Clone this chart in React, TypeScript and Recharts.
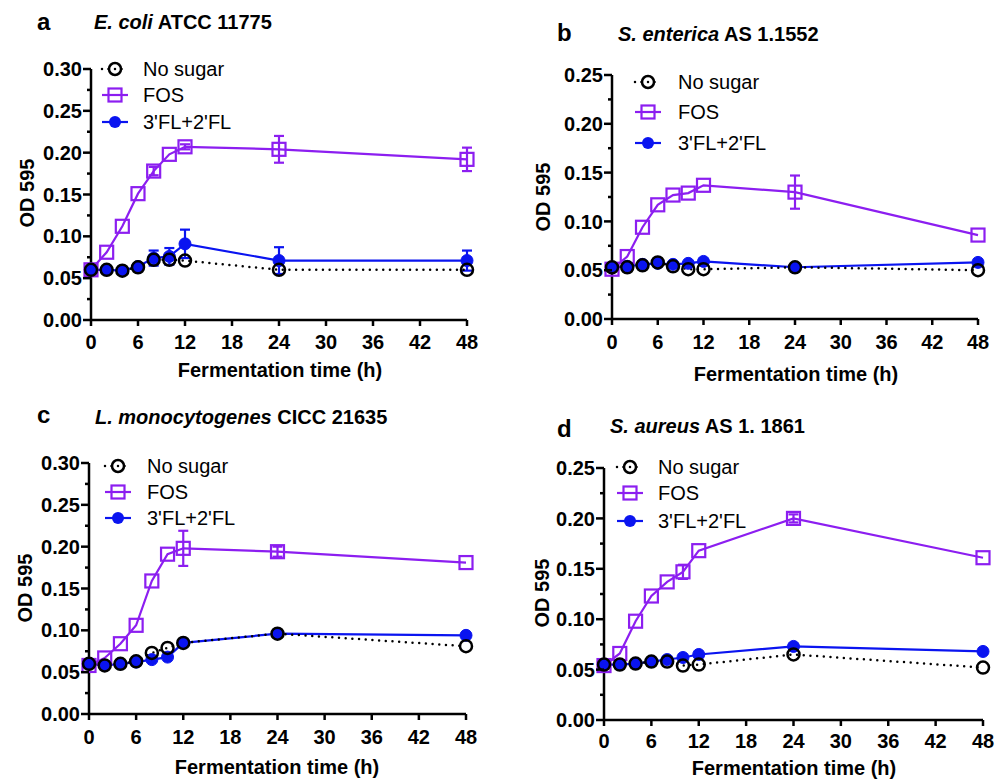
import React from 'react';
import { LineChart, Line, XAxis, YAxis, ErrorBar } from 'recharts';

const FONT = '"Liberation Sans", Arial, Helvetica, sans-serif';
const PURPLE = '#8C1EF0';
const BLUE = '#0A14F0';
const BLACK = '#000000';

// Sampling times (h)
const times = [0, 2, 4, 6, 8, 10, 12, 24, 48];
const xTicks = [0, 6, 12, 18, 24, 30, 36, 42, 48];
const yTicks30 = [0, 0.025, 0.05, 0.075, 0.1, 0.125, 0.15, 0.175, 0.2, 0.225, 0.25, 0.275, 0.3];
const yTicks25 = [0, 0.025, 0.05, 0.075, 0.1, 0.125, 0.15, 0.175, 0.2, 0.225, 0.25];
const legendLabels = ['No sugar', 'FOS', "3'FL+2'FL"];

// Panel a: E. coli ATCC 11775
const aNone = [0.06, 0.06, 0.059, 0.063, 0.072, 0.072, 0.071, 0.06, 0.06];
const aFos = [0.06, 0.081, 0.112, 0.151, 0.178, 0.198, 0.207, 0.204, 0.192];
const aFosErr = [null, null, null, null, 0.005, null, 0.003, 0.016, 0.014];
const aFl = [0.06, 0.06, 0.059, 0.064, 0.074, 0.076, 0.091, 0.071, 0.071];
const aFlErr = [null, null, null, null, 0.009, 0.01, 0.017, 0.016, 0.012];

// Panel b: S. enterica AS 1.1552
const bNone = [0.053, 0.053, 0.055, 0.058, 0.054, 0.051, 0.051, 0.053, 0.05];
const bFos = [0.051, 0.064, 0.094, 0.117, 0.127, 0.129, 0.137, 0.13, 0.086];
const bFosErr = [null, null, null, null, null, null, null, 0.017, null];
const bFl = [0.053, 0.054, 0.056, 0.057, 0.056, 0.057, 0.059, 0.053, 0.058];
const bFlErr = [null, null, null, null, null, null, null, null, null];

// Panel c: L. monocytogenes CICC 21635
const cNone = [0.06, 0.058, 0.06, 0.063, 0.073, 0.079, 0.085, 0.096, 0.081];
const cFos = [0.058, 0.067, 0.084, 0.106, 0.159, 0.191, 0.198, 0.194, 0.181];
const cFosErr = [null, null, null, null, null, null, 0.021, 0.006, null];
const cFl = [0.06, 0.058, 0.06, 0.062, 0.065, 0.068, 0.085, 0.096, 0.094];
const cFlErr = [null, null, null, null, null, null, null, null, null];

// Panel d: S. aureus AS 1. 1861
const dNone = [0.055, 0.055, 0.056, 0.058, 0.058, 0.054, 0.055, 0.065, 0.052];
const dFos = [0.054, 0.066, 0.098, 0.123, 0.137, 0.147, 0.168, 0.2, 0.161];
const dFosErr = [null, null, null, null, null, 0.007, null, 0.004, null];
const dFl = [0.055, 0.055, 0.056, 0.058, 0.06, 0.062, 0.065, 0.073, 0.068];
const dFlErr = [null, null, null, null, null, null, null, null, null];

type Cfg = {
  letter: string;
  species: string;
  strain: string;
  left: number; top: number; w: number; h: number;
  pl: number; pr: number; pt: number; pb: number;
  yMax: number; yTicks: number[];
  none: number[]; fos: number[]; fosErr: (number | null)[]; fl: number[]; flErr: (number | null)[];
  letterPos: [number, number]; titlePos: [number, number];
  yTitle: [number, number]; xTitle: [number, number];
  xTickMargin: number;
  legend: { mx: number; tx: number; rows: number[] };
};

const panels: Cfg[] = [
  {
    letter: 'a', species: 'E. coli', strain: ' ATCC 11775',
    left: 0, top: 0, w: 500, h: 390, pl: 91, pr: 467, pt: 69, pb: 320,
    yMax: 0.3, yTicks: yTicks30,
    none: aNone, fos: aFos, fosErr: aFosErr, fl: aFl, flErr: aFlErr,
    letterPos: [37, 30], titlePos: [94, 29], yTitle: [27, 193], xTitle: [280, 377], xTickMargin: 9,
    legend: { mx: 115, tx: 143, rows: [69, 95, 122] },
  },
  {
    letter: 'b', species: 'S. enterica', strain: ' AS 1.1552',
    left: 500, top: 0, w: 507, h: 390, pl: 112, pr: 478, pt: 75, pb: 319,
    yMax: 0.25, yTicks: yTicks25,
    none: bNone, fos: bFos, fosErr: bFosErr, fl: bFl, flErr: bFlErr,
    letterPos: [57, 41], titlePos: [118, 41], yTitle: [43, 197], xTitle: [296, 381], xTickMargin: 10,
    legend: { mx: 148, tx: 178, rows: [82, 112, 143] },
  },
  {
    letter: 'c', species: 'L. monocytogenes', strain: ' CICC 21635',
    left: 0, top: 390, w: 500, h: 390, pl: 89, pr: 466, pt: 73, pb: 324,
    yMax: 0.3, yTicks: yTicks30,
    none: cNone, fos: cFos, fosErr: cFosErr, fl: cFl, flErr: cFlErr,
    letterPos: [37, 33], titlePos: [95, 34], yTitle: [25, 198], xTitle: [277, 384], xTickMargin: 10,
    legend: { mx: 118, tx: 147, rows: [76, 102, 128] },
  },
  {
    letter: 'd', species: 'S. aureus', strain: ' AS 1. 1861',
    left: 500, top: 390, w: 507, h: 390, pl: 104, pr: 483, pt: 78, pb: 330,
    yMax: 0.25, yTicks: yTicks25,
    none: dNone, fos: dFos, fosErr: dFosErr, fl: dFl, flErr: dFlErr,
    letterPos: [57, 47], titlePos: [110, 43], yTitle: [42, 203], xTitle: [294, 385], xTickMargin: 8,
    legend: { mx: 130, tx: 158, rows: [77, 103, 131] },
  },
];

const YTick = (props: any) => {
  const { x, y, payload } = props;
  const v = payload.value as number;
  const major = Math.abs(v * 20 - Math.round(v * 20)) < 1e-6;
  const lx = x + 9;
  return (
    <g>
      <line x1={lx - (major ? 8 : 4)} x2={lx} y1={y} y2={y} stroke={BLACK} strokeWidth={2.5} />
      {major && (
        <text x={x} y={y} dy="0.355em" textAnchor="end" fontFamily={FONT} fontSize={20} fontWeight="bold" fill={BLACK}>
          {v.toFixed(2)}
        </text>
      )}
    </g>
  );
};

const AxisTitle = (props: any) => {
  const { px, py, text, vertical } = props;
  if (vertical) {
    return (
      <text transform={`translate(${px},${py}) rotate(-90)`} textAnchor="middle" dominantBaseline="central"
        fontFamily={FONT} fontSize={20} fontWeight="bold" fill={BLACK}>{text}</text>
    );
  }
  return (
    <text x={px} y={py} textAnchor="middle" fontFamily={FONT} fontSize={20} fontWeight="bold" fill={BLACK}>{text}</text>
  );
};

const OpenCircle = (p: any) =>
  p.cx == null ? <g key={p.index} /> : (
    <circle key={p.index} cx={p.cx} cy={p.cy} r={6} fill="none" stroke={BLACK} strokeWidth={2.5} />
  );
const OpenSquare = (p: any) =>
  p.cx == null ? <g key={p.index} /> : (
    <rect key={p.index} x={p.cx - 6.5} y={p.cy - 6.5} width={13} height={13} fill="none" stroke={PURPLE} strokeWidth={2.2} />
  );
const FilledCircle = (p: any) =>
  p.cx == null ? <g key={p.index} /> : (
    <circle key={p.index} cx={p.cx} cy={p.cy} r={6} fill={BLUE} stroke={BLUE} strokeWidth={1} />
  );

function Panel({ cfg }: { cfg: Cfg }) {
  const data = times.map((t, i) => ({
    t,
    none: cfg.none[i],
    fos: cfg.fos[i],
    fosErr: cfg.fosErr[i],
    fl: cfg.fl[i],
    flErr: cfg.flErr[i],
  }));
  const lg = cfg.legend;
  return (
    <div style={{ position: 'absolute', left: cfg.left, top: cfg.top, width: cfg.w, height: cfg.h }}>
      <LineChart width={cfg.w} height={cfg.h} data={data}
        margin={{ top: cfg.pt, right: cfg.w - cfg.pr, bottom: 0, left: 0 }}>
        <XAxis dataKey="t" type="number" domain={[0, 48]} ticks={xTicks} interval={0}
          height={cfg.h - cfg.pb}
          axisLine={{ stroke: BLACK, strokeWidth: 2.5 }}
          tickLine={{ stroke: BLACK, strokeWidth: 2.5 }}
          tickSize={6} tickMargin={cfg.xTickMargin}
          tick={{ fontFamily: FONT, fontSize: 20, fontWeight: 'bold', fill: BLACK }}
          label={<AxisTitle px={cfg.xTitle[0]} py={cfg.xTitle[1]} text="Fermentation time (h)" />}
        />
        <YAxis type="number" domain={[0, cfg.yMax]} ticks={cfg.yTicks} interval={0}
          width={cfg.pl}
          axisLine={{ stroke: BLACK, strokeWidth: 2.5 }}
          tickLine={false} tickSize={0} tickMargin={9}
          tick={<YTick />}
          label={<AxisTitle px={cfg.yTitle[0]} py={cfg.yTitle[1]} text="OD 595" vertical />}
        />
        <Line dataKey="fos" type="linear" stroke={PURPLE} strokeWidth={2.2} dot={OpenSquare}
          activeDot={false} isAnimationActive={false}>
          <ErrorBar dataKey="fosErr" width={5} stroke={PURPLE} strokeWidth={2.2} direction="y" />
        </Line>
        <Line dataKey="fl" type="linear" stroke={BLUE} strokeWidth={2.2} dot={FilledCircle}
          activeDot={false} isAnimationActive={false}>
          <ErrorBar dataKey="flErr" width={5} stroke={BLUE} strokeWidth={2.2} direction="y" />
        </Line>
        <Line dataKey="none" type="linear" stroke={BLACK} strokeWidth={2.5} strokeDasharray="0 6.7"
          strokeLinecap="round" dot={OpenCircle} activeDot={false} isAnimationActive={false} />
      </LineChart>
      <svg width={cfg.w} height={cfg.h} style={{ position: 'absolute', left: 0, top: 0, pointerEvents: 'none' }}>
        <text x={cfg.letterPos[0]} y={cfg.letterPos[1]} fontFamily={FONT} fontSize={24} fontWeight="bold" fill={BLACK}>
          {cfg.letter}
        </text>
        <text x={cfg.titlePos[0]} y={cfg.titlePos[1]} fontFamily={FONT} fontSize={20} fontWeight="bold" fill={BLACK}>
          <tspan fontStyle="italic">{cfg.species}</tspan>
          <tspan>{cfg.strain}</tspan>
        </text>
        {/* legend */}
        <g>
          <line x1={lg.mx - 13} x2={lg.mx + 13} y1={lg.rows[0]} y2={lg.rows[0]} stroke={BLACK} strokeWidth={2.5}
            strokeDasharray="0 6.5" strokeLinecap="round" />
          <circle cx={lg.mx} cy={lg.rows[0]} r={6} fill="none" stroke={BLACK} strokeWidth={2.5} />
          <line x1={lg.mx - 13} x2={lg.mx + 13} y1={lg.rows[1]} y2={lg.rows[1]} stroke={PURPLE} strokeWidth={2.2} />
          <rect x={lg.mx - 6.5} y={lg.rows[1] - 6.5} width={13} height={13} fill="none" stroke={PURPLE} strokeWidth={2.2} />
          <line x1={lg.mx - 13} x2={lg.mx + 13} y1={lg.rows[2]} y2={lg.rows[2]} stroke={BLUE} strokeWidth={2.2} />
          <circle cx={lg.mx} cy={lg.rows[2]} r={6} fill={BLUE} />
          {legendLabels.map((s, i) => (
            <text key={s} x={lg.tx} y={lg.rows[i]} dy="0.35em" fontFamily={FONT} fontSize={20} fill={BLACK}>{s}</text>
          ))}
        </g>
      </svg>
    </div>
  );
}

export default function App() {
  return (
    <div style={{ position: 'absolute', left: 0, top: 0, width: 1007, height: 780, background: '#fff', overflow: 'hidden' }}>
      {panels.map((p) => (
        <Panel key={p.letter} cfg={p} />
      ))}
    </div>
  );
}
